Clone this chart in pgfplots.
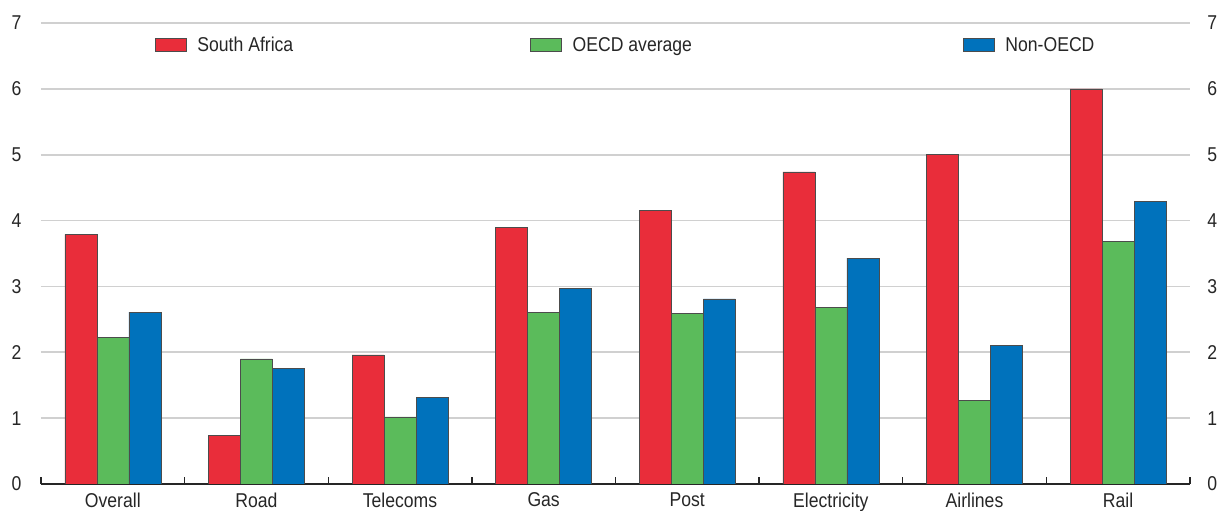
\documentclass[border=0pt]{standalone}
\usepackage{pgfplots}
\pgfplotsset{compat=1.18}
\usepackage{fontspec}
\setmainfont{Liberation Sans}[FakeStretch=0.88]
\definecolor{cRed}{RGB}{233,45,58}
\definecolor{cGreen}{RGB}{91,187,91}
\definecolor{cBlue}{RGB}{0,114,188}
\definecolor{cGrid}{RGB}{208,208,208}
\pgfplotsset{
  common/.style={
    scale only axis, width=1149bp, height=461bp,
    xmin=-0.5, xmax=7.5, ymin=0, ymax=7,
    ytick={0,1,...,7},
    major tick length=0pt,
    font=\fontsize{20bp}{23bp}\selectfont,
    /pgf/number format/assume math mode=true,
    yticklabel style={text=black!85},
  },
  legimg/.style={legend image code/.code={\draw[##1] (0bp,-6.5bp) rectangle (31bp,6.5bp);}},
}
\begin{document}
\begin{tikzpicture}
\begin{axis}[common,
  axis x line=none, axis y line*=left,
  y axis line style={draw=none},
  xtick=\empty,
  ymajorgrids, grid style={cGrid, line width=1.6pt},
  yticklabel style={xshift=-16bp},
]
\end{axis}
\begin{axis}[common,
  axis x line*=bottom, axis y line=none,
  x axis line style={line width=1.6pt, black!85},
  ybar=0pt, bar width=32bp,
  xtick={0,...,7},
  xticklabels={Overall,Road,Telecoms,Gas,Post,Electricity,Airlines,Rail},
  xticklabel style={text=black!85, yshift=-5bp},
  extra x ticks={-0.5,0.5,...,7.5},
  extra x tick labels={},
  extra x tick style={major tick length=7bp, tick align=inside, tick style={line width=1.4pt, black!85}},
  legend columns=3,
  legend style={draw=none, fill=none, inner sep=0pt, outer sep=0pt,
    at={(0.0992,0.952)}, anchor=west,
    nodes={text=black!85, inner ysep=4pt, inner xsep=11pt}},
  legimg,
]
\addplot[fill=cRed, draw=black!70, line width=0.5pt] coordinates {(0,3.79) (1,0.74) (2,1.96) (3,3.90) (4,4.16) (5,4.74) (6,5.00) (7,6.00)};
\addplot[fill=cGreen, draw=black!70, line width=0.5pt] coordinates {(0,2.23) (1,1.90) (2,1.02) (3,2.61) (4,2.59) (5,2.68) (6,1.27) (7,3.68)};
\addplot[fill=cBlue, draw=black!70, line width=0.5pt] coordinates {(0,2.61) (1,1.76) (2,1.31) (3,2.97) (4,2.81) (5,3.43) (6,2.11) (7,4.29)};
\legend{South Africa\hspace*{226bp},OECD average\hspace*{260bp},Non-OECD}
\end{axis}
\begin{axis}[common,
  axis x line=none, axis y line*=right,
  y axis line style={draw=none},
  xtick=\empty,
  yticklabel style={xshift=14bp},
]
\end{axis}
\pgfresetboundingbox
\useasboundingbox (-41bp,-27bp) rectangle (1177bp,484bp);
\end{tikzpicture}
\end{document}
